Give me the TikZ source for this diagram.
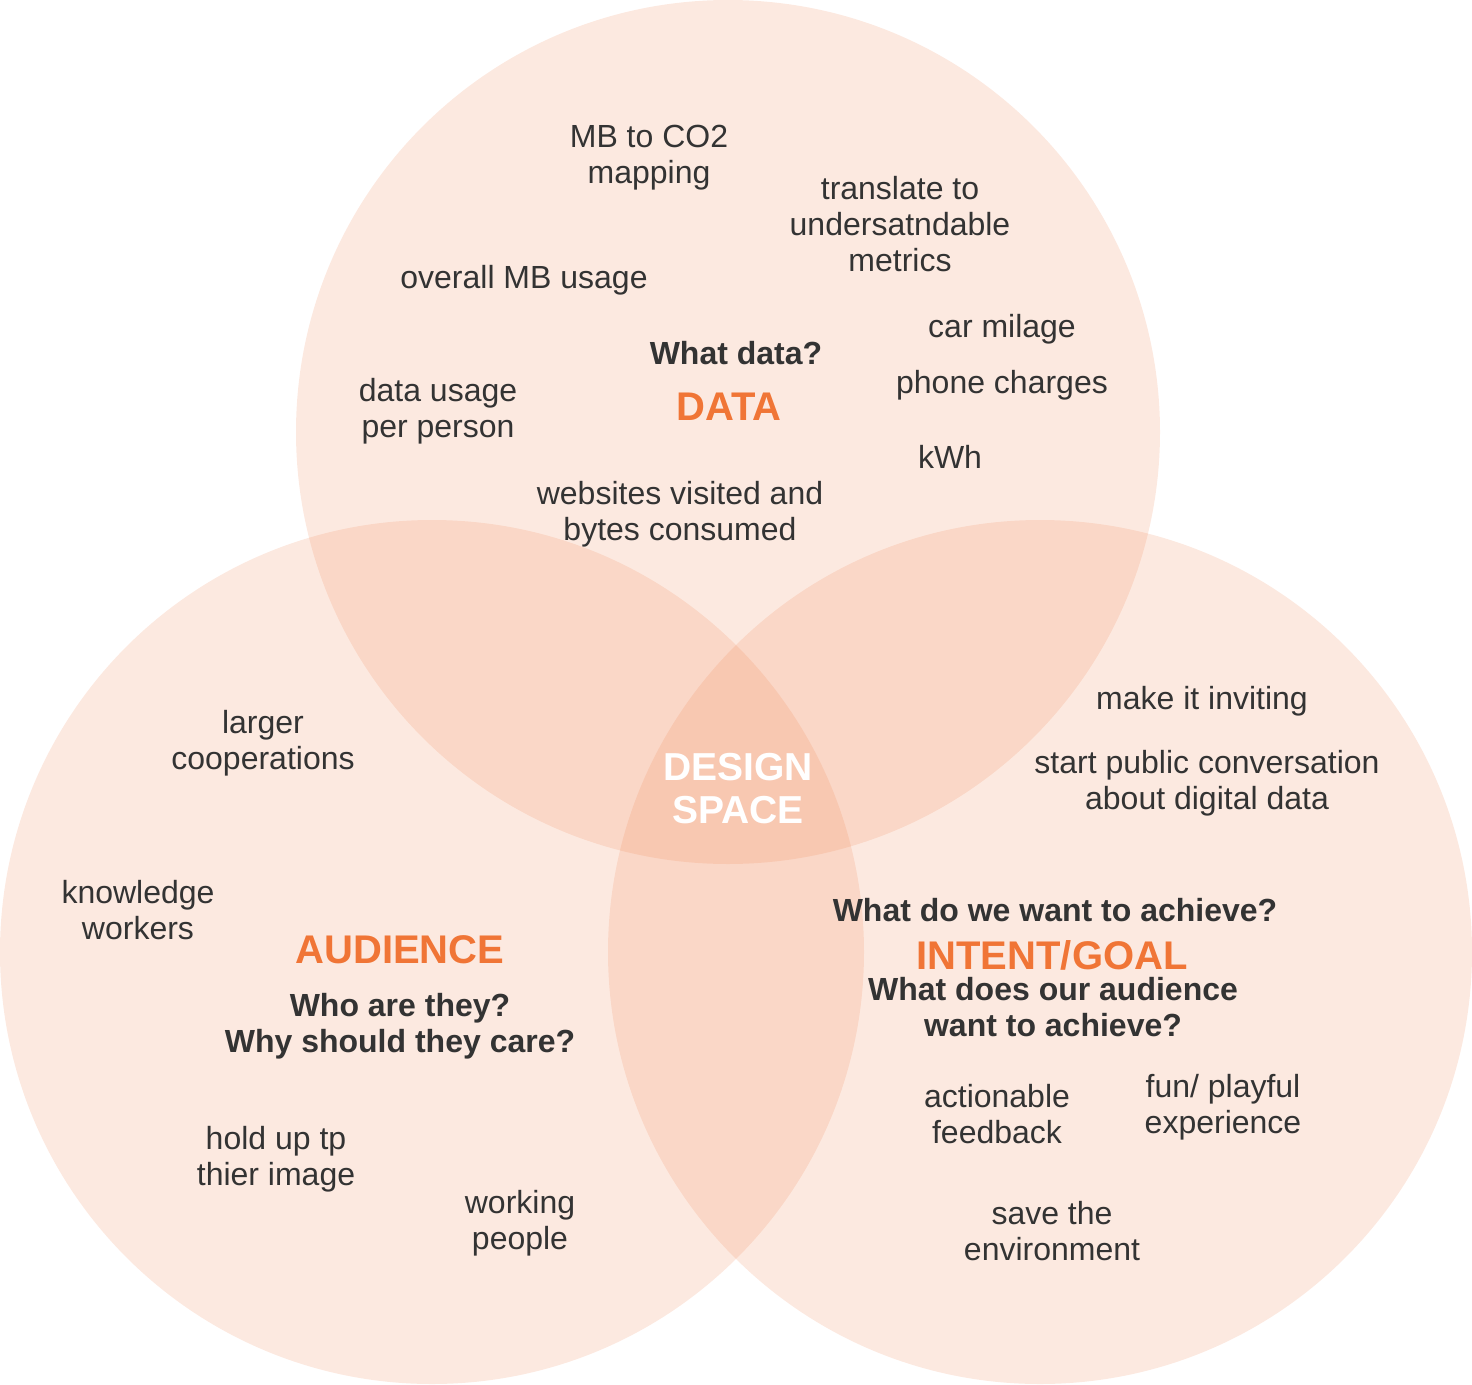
\documentclass[tikz,border=0pt]{standalone}
\usepackage{fontspec}
\setmainfont{Liberation Sans}
\begin{document}
\definecolor{blob}{RGB}{238,122,68}
\definecolor{inktext}{RGB}{51,51,51}
\definecolor{heading}{RGB}{240,117,54}
\begin{tikzpicture}[x=1pt,y=-1pt,
  venn/.style={fill=blob,fill opacity=0.165},
  txt/.style={align=center,text=inktext,inner sep=0,yshift=-3pt,font=\fontsize{32}{36}\selectfont},
  question/.style={align=center,text=inktext,inner sep=0,font=\fontsize{32}{36}\selectfont\bfseries},
  title/.style={align=center,text=heading,inner sep=0,font=\fontsize{40}{44}\selectfont\bfseries},
  core/.style={align=center,text=white,inner sep=0,font=\fontsize{39}{43}\selectfont\bfseries}]
\useasboundingbox (0,0) rectangle (1472,1384);

% the three overlapping sets
\fill[venn] (728,432) circle[radius=432pt];
\fill[venn] (432,952) circle[radius=432pt];
\fill[venn] (1040,952) circle[radius=432pt];

% DATA set
\node[txt] (mbco2) at (649,155) {MB to CO2\\mapping};
\node[txt] (translate) at (900,221) {translate to\\undersatndable\\metrics};
\node[txt] (overall) at (524,277) {overall MB usage};
\node[txt] (car) at (1002,326) {car milage};
\node[question] (whatdata) at (736,353) {What data?};
\node[txt] (phone) at (1002,382) {phone charges};
\node[title] (data) at (729,407) {DATA};
\node[txt] (perperson) at (438,408) {data usage\\per person};
\node[txt] (kwh) at (950,454) {kWh};
\node[txt] (websites) at (680,511) {websites visited and\\bytes consumed};

% centre
\node[core] (design) at (738,789) {DESIGN\\SPACE};

% INTENT/GOAL set
\node[txt] (inviting) at (1202,698) {make it inviting};
\node[txt] (conversation) at (1207,780) {start public conversation\\about digital data};
\node[question] (achieve) at (1055,910) {What do we want to achieve?};
\node[title] (intent) at (1052,955) {INTENT/GOAL};
\node[question] (audachieve) at (1053,1007) {What does our audience\\want to achieve?};
\node[txt] (actionable) at (997,1111) {actionable\\feedback};
\node[txt] (fun) at (1223,1104) {fun/ playful\\experience};
\node[txt] (environment) at (1052,1228) {save the\\environment};

% AUDIENCE set
\node[txt] (larger) at (263,740) {larger\\cooperations};
\node[txt] (knowledge) at (138,907) {knowledge\\workers};
\node[title] (audience) at (400,950) {AUDIENCE};
\node[question] (who) at (400,1026) {Who are they?\\Why should they care?};
\node[txt] (image) at (276,1156) {hold up tp\\thier image};
\node[txt] (working) at (520,1220) {working\\people};
\end{tikzpicture}
\end{document}
